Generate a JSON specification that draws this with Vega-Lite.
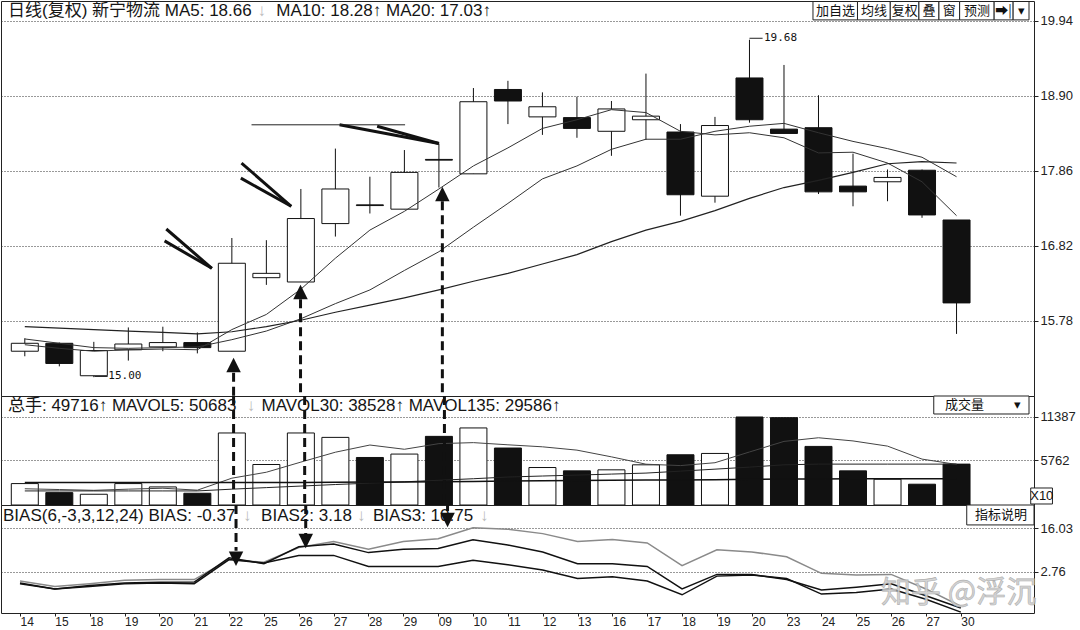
{
  "$schema": "https://vega.github.io/schema/vega-lite/v6.json",
  "background": "white",
  "padding": 0,
  "spacing": 0,
  "bounds": "flush",
  "config": {
    "view": {"stroke": "#222", "strokeWidth": 1},
    "axis": {"labelFont": "Liberation Sans", "labelColor": "#222", "tickColor": "#222", "gridColor": "#333", "gridDash": [1, 2], "gridWidth": 1, "domain": false, "tickSize": 4}
  },
  "datasets": {
    "k": [
      {"i":0,"d":"14","o":15.36,"h":15.54,"l":15.29,"c":15.47,"v":2770,"ma5":15.45,"ma10":15.53,"ma20":15.70,"mv5":2100,"mv30":1820,"mv135":2900,"b1":-0.96,"b2":-0.75,"b3":-0.11},
      {"i":1,"d":"15","o":15.47,"h":15.48,"l":15.15,"c":15.19,"v":1600,"ma5":15.40,"ma10":15.47,"ma20":15.68,"mv5":2000,"mv30":1820,"mv135":2900,"b1":-2.56,"b2":-2.56,"b3":-1.81},
      {"i":2,"d":"18","o":15.02,"h":15.49,"l":15.00,"c":15.37,"v":1390,"ma5":15.36,"ma10":15.41,"ma20":15.66,"mv5":1900,"mv30":1820,"mv135":2900,"b1":-1.81,"b2":-1.49,"b3":-0.96},
      {"i":3,"d":"19","o":15.38,"h":15.69,"l":15.23,"c":15.46,"v":2770,"ma5":15.38,"ma10":15.40,"ma20":15.64,"mv5":2050,"mv30":1820,"mv135":2900,"b1":-0.96,"b2":-0.75,"b3":0.10},
      {"i":4,"d":"20","o":15.42,"h":15.70,"l":15.36,"c":15.48,"v":2340,"ma5":15.39,"ma10":15.41,"ma20":15.62,"mv5":2170,"mv30":1820,"mv135":2900,"b1":-0.75,"b2":-0.54,"b3":0.31},
      {"i":5,"d":"21","o":15.48,"h":15.62,"l":15.33,"c":15.41,"v":1520,"ma5":15.38,"ma10":15.42,"ma20":15.60,"mv5":1920,"mv30":1820,"mv135":2900,"b1":-0.96,"b2":-0.43,"b3":0.31},
      {"i":6,"d":"22","o":15.36,"h":16.93,"l":15.36,"c":16.58,"v":9320,"ma5":15.66,"ma10":15.52,"ma20":15.63,"mv5":3470,"mv30":2050,"mv135":2900,"b1":6.48,"b2":7.01,"b3":6.48},
      {"i":7,"d":"25","o":16.38,"h":16.90,"l":16.28,"c":16.44,"v":5240,"ma5":15.87,"ma10":15.64,"ma20":15.70,"mv5":4240,"mv30":2250,"mv135":2910,"b1":5.42,"b2":5.20,"b3":5.63},
      {"i":8,"d":"26","o":16.32,"h":17.61,"l":16.32,"c":17.20,"v":9320,"ma5":16.22,"ma10":15.81,"ma20":15.79,"mv5":5550,"mv30":2450,"mv135":2920,"b1":7.75,"b2":10.41,"b3":10.20},
      {"i":9,"d":"27","o":17.13,"h":18.17,"l":16.95,"c":17.61,"v":8750,"ma5":16.65,"ma10":16.02,"ma20":15.90,"mv5":6830,"mv30":2650,"mv135":2940,"b1":7.75,"b2":11.26,"b3":12.01},
      {"i":10,"d":"28","o":17.39,"h":17.78,"l":17.27,"c":17.38,"v":6150,"ma5":17.04,"ma10":16.21,"ma20":16.00,"mv5":7760,"mv30":2830,"mv135":2960,"b1":4.35,"b2":8.61,"b3":9.67},
      {"i":11,"d":"29","o":17.33,"h":18.15,"l":17.33,"c":17.84,"v":6590,"ma5":17.30,"ma10":16.48,"ma20":16.10,"mv5":7210,"mv30":3000,"mv135":2990,"b1":4.35,"b2":9.67,"b3":12.01},
      {"i":12,"d":"09","o":18.02,"h":18.24,"l":17.63,"c":18.01,"v":8880,"ma5":17.61,"ma10":16.74,"ma20":16.21,"mv5":7940,"mv30":3200,"mv135":3020,"b1":4.35,"b2":9.88,"b3":12.86},
      {"i":13,"d":"10","o":17.82,"h":19.01,"l":17.82,"c":18.82,"v":9970,"ma5":17.93,"ma10":17.08,"ma20":16.33,"mv5":8070,"mv30":3400,"mv135":3050,"b1":6.27,"b2":12.54,"b3":16.26},
      {"i":14,"d":"11","o":18.99,"h":19.11,"l":18.51,"c":18.83,"v":7370,"ma5":18.18,"ma10":17.41,"ma20":16.44,"mv5":7790,"mv30":3620,"mv135":3100,"b1":4.88,"b2":10.94,"b3":15.83},
      {"i":15,"d":"12","o":18.61,"h":18.95,"l":18.36,"c":18.75,"v":4850,"ma5":18.45,"ma10":17.75,"ma20":16.57,"mv5":7530,"mv30":3750,"mv135":3150,"b1":3.29,"b2":8.82,"b3":14.45},
      {"i":16,"d":"13","o":18.60,"h":18.89,"l":18.32,"c":18.45,"v":4420,"ma5":18.57,"ma10":17.93,"ma20":16.70,"mv5":7100,"mv30":3870,"mv135":3180,"b1":0.63,"b2":5.20,"b3":12.01},
      {"i":17,"d":"16","o":18.41,"h":18.83,"l":18.07,"c":18.72,"v":4550,"ma5":18.71,"ma10":18.16,"ma20":16.88,"mv5":6230,"mv30":4000,"mv135":3200,"b1":1.16,"b2":5.20,"b3":12.64},
      {"i":18,"d":"17","o":18.57,"h":19.21,"l":18.29,"c":18.62,"v":5200,"ma5":18.67,"ma10":18.30,"ma20":17.04,"mv5":5280,"mv30":4130,"mv135":3220,"b1":-0.11,"b2":4.35,"b3":11.58},
      {"i":19,"d":"18","o":18.40,"h":18.51,"l":17.24,"c":17.53,"v":6500,"ma5":18.41,"ma10":18.30,"ma20":17.16,"mv5":5100,"mv30":4380,"mv135":3250,"b1":-4.36,"b2":-2.56,"b3":4.57},
      {"i":20,"d":"19","o":17.51,"h":18.61,"l":17.42,"c":18.49,"v":6670,"ma5":18.36,"ma10":18.41,"ma20":17.31,"mv5":5470,"mv30":4640,"mv135":3280,"b1":1.38,"b2":1.91,"b3":9.46},
      {"i":21,"d":"20","o":19.15,"h":19.68,"l":18.53,"c":18.57,"v":11387,"ma5":18.39,"ma10":18.48,"ma20":17.48,"mv5":6860,"mv30":4900,"mv135":3320,"b1":1.70,"b2":1.91,"b3":8.82},
      {"i":22,"d":"23","o":18.44,"h":19.33,"l":18.38,"c":18.38,"v":11300,"ma5":18.32,"ma10":18.52,"ma20":17.63,"mv5":8230,"mv30":5200,"mv135":3360,"b1":0.63,"b2":0.31,"b3":7.33},
      {"i":23,"d":"24","o":18.46,"h":18.91,"l":17.54,"c":17.57,"v":7580,"ma5":18.11,"ma10":18.39,"ma20":17.73,"mv5":8700,"mv30":5290,"mv135":3380,"b1":-4.15,"b2":-2.88,"b3":2.23},
      {"i":24,"d":"25","o":17.65,"h":18.10,"l":17.37,"c":17.57,"v":4420,"ma5":18.12,"ma10":18.27,"ma20":17.84,"mv5":8290,"mv30":5290,"mv135":3390,"b1":-3.62,"b2":-2.03,"b3":1.70},
      {"i":25,"d":"26","o":17.71,"h":17.88,"l":17.44,"c":17.77,"v":3340,"ma5":17.97,"ma10":18.17,"ma20":17.96,"mv5":7620,"mv30":5290,"mv135":3400,"b1":-2.56,"b2":-0.96,"b3":1.91},
      {"i":26,"d":"27","o":17.87,"h":17.88,"l":17.21,"c":17.25,"v":2690,"ma5":17.71,"ma10":18.05,"ma20":17.99,"mv5":5940,"mv30":5290,"mv135":3400,"b1":-5.75,"b2":-4.68,"b3":-2.56},
      {"i":27,"d":"30","o":17.18,"h":17.18,"l":15.60,"c":16.03,"v":5290,"ma5":17.24,"ma10":17.78,"ma20":17.97,"mv5":5250,"mv30":5290,"mv135":3400,"b1":-9.68,"b2":-8.40,"b3":-7.87}
    ],
    "a": [
      {"p":"t","k":"w","i":4.10,"y":17.055,"i2":5.42,"y2":16.51},
      {"p":"t","k":"w","i":4.05,"y":16.89,"i2":5.42,"y2":16.51},
      {"p":"t","k":"w","i":6.28,"y":17.97,"i2":7.72,"y2":17.37},
      {"p":"t","k":"w","i":6.26,"y":17.76,"i2":7.72,"y2":17.37},
      {"p":"t","k":"w","i":9.12,"y":18.50,"i2":12.0,"y2":18.24},
      {"p":"t","k":"w","i":10.21,"y":18.48,"i2":12.0,"y2":18.24},
      {"p":"t","k":"th","i":6.57,"y":18.50,"i2":11.02,"y2":18.50},
      {"p":"t","k":"th","i":21.0,"y":19.70,"i2":21.38,"y2":19.70},
      {"p":"t","k":"th","i":2.02,"y":15.01,"i2":2.4,"y2":15.01},
      {"p":"t","k":"d","i":6.05,"y":15.06,"y2":14.739},
      {"p":"t","k":"d","i":7.99,"y":16.08,"y2":14.739},
      {"p":"t","k":"d","i":12.1,"y":17.44,"y2":14.739},
      {"p":"t","k":"tu","i":6.05,"y":15.17},
      {"p":"t","k":"tu","i":7.99,"y":16.18},
      {"p":"t","k":"tu","i":12.1,"y":17.54},
      {"p":"t","k":"n","i":21.42,"y":19.70,"t":"19.68"},
      {"p":"t","k":"n","i":2.42,"y":15.01,"t":"15.00"},
      {"p":"t","k":"tt","i":-0.488,"y":20.079,"t":"日线(复权) 新宁物流 MA5: 18.66"},
      {"p":"t","k":"tt","i":7.29,"y":20.079,"t":"MA10: 18.28↑  MA20: 17.03↑"},
      {"p":"t","k":"ga","i":6.74,"y":20.079,"t":"↓"},
      {"p":"t","k":"b","i":22.84,"i2":24.13,"y":20.21,"y2":19.955},
      {"p":"t","k":"b","i":24.13,"i2":25.08,"y":20.21,"y2":19.955},
      {"p":"t","k":"b","i":25.08,"i2":25.91,"y":20.21,"y2":19.955},
      {"p":"t","k":"b","i":25.91,"i2":26.49,"y":20.21,"y2":19.955},
      {"p":"t","k":"b","i":26.49,"i2":27.09,"y":20.21,"y2":19.955},
      {"p":"t","k":"b","i":27.09,"i2":28.09,"y":20.21,"y2":19.955},
      {"p":"t","k":"b","i":28.09,"i2":28.64,"y":20.21,"y2":19.955},
      {"p":"t","k":"b","i":28.64,"i2":29.10,"y":20.21,"y2":19.955},
      {"p":"t","k":"bt","i":23.49,"y":20.079,"t":"加自选"},
      {"p":"t","k":"bt","i":24.61,"y":20.079,"t":"均线"},
      {"p":"t","k":"bt","i":25.50,"y":20.079,"t":"复权"},
      {"p":"t","k":"bt","i":26.20,"y":20.079,"t":"叠"},
      {"p":"t","k":"bt","i":26.79,"y":20.079,"t":"窗"},
      {"p":"t","k":"bt","i":27.59,"y":20.079,"t":"预测"},
      {"p":"t","k":"bt","i":28.36,"y":20.079,"t":"➡|"},
      {"p":"t","k":"bt","i":28.87,"y":20.079,"t":"▾"},
      {"p":"m","k":"d","i":6.05},
      {"p":"m","k":"d","i":8.11},
      {"p":"m","k":"d","i":12.16},
      {"p":"m","k":"tt","i":-0.488,"y":12811,"t":"总手: 49716↑ MAVOL5: 50683"},
      {"p":"m","k":"tt","i":6.86,"y":12811,"t":"MAVOL30: 38528↑ MAVOL135: 29586↑"},
      {"p":"m","k":"ga","i":6.43,"y":12811,"t":"↓"},
      {"p":"m","k":"b","i":26.34,"i2":29.10,"y":14104,"y2":11775},
      {"p":"m","k":"b","i":29.15,"i2":29.78,"y":2200,"y2":130},
      {"p":"m","k":"bt","i":27.23,"y":12940,"t":"成交量"},
      {"p":"m","k":"bt","i":28.78,"y":12940,"t":"▾"},
      {"p":"m","k":"bt","i":29.47,"y":1165,"t":"X10"},
      {"p":"b","k":"d","i":6.2,"y":23.25,"y2":9.15},
      {"p":"b","k":"d","i":8.2,"y":23.25,"y2":14.36},
      {"p":"b","k":"d","i":12.27,"y":23.25,"y2":21.41},
      {"p":"b","k":"td","i":6.2,"y":6.7},
      {"p":"b","k":"td","i":8.2,"y":12.2},
      {"p":"b","k":"td","i":12.27,"y":18.65},
      {"p":"b","k":"tt","i":-0.488,"y":19.88,"t":"BIAS(6,-3,3,12,24) BIAS: -0.37"},
      {"p":"b","k":"tt","i":6.92,"y":19.88,"t":"BIAS2: 3.18"},
      {"p":"b","k":"tt","i":10.13,"y":19.88,"t":"BIAS3: 10.75"},
      {"p":"b","k":"ga","i":6.40,"y":19.88,"t":"↓"},
      {"p":"b","k":"ga","i":9.67,"y":19.88,"t":"↓"},
      {"p":"b","k":"ga","i":13.20,"y":19.88,"t":"↓"},
      {"p":"b","k":"b","i":27.17,"i2":29.10,"y":23.25,"y2":17.12},
      {"p":"b","k":"bt","i":28.15,"y":20.19,"t":"指标说明"},
      {"p":"b","k":"wm","i":24.71,"y":-3.8,"t":"知乎 @浮沉"}
    ]
  },
  "vconcat": [
    {
      "width": 1033,
      "height": 395,
      "data": {"name": "k"},
      "encoding": {
        "x": {"field": "i", "type": "quantitative", "scale": {"domain": [-0.545, 29.1], "nice": false, "zero": false}, "axis": null}
      },
      "layer": [
        {"mark": {"type": "rule", "color": "#111", "strokeWidth": 1},
         "encoding": {
           "y": {"field": "l", "type": "quantitative", "scale": {"domain": [14.739, 20.217], "nice": false, "zero": false},
                 "axis": {"orient": "right", "values": [15.78, 16.82, 17.86, 18.9, 19.94], "format": ".2f", "grid": true, "title": null, "labelFontSize": 13, "labelPadding": 2}},
           "y2": {"field": "h"}}},
        {"mark": {"type": "bar", "width": 27, "stroke": "#111", "strokeWidth": 1},
         "encoding": {
           "y": {"field": "o", "type": "quantitative", "scale": {"domain": [14.739, 20.217], "nice": false, "zero": false},
                 "axis": {"orient": "right", "values": [15.78, 16.82, 17.86, 18.9, 19.94], "format": ".2f", "grid": true, "title": null, "labelFontSize": 13, "labelPadding": 2}},
           "y2": {"field": "c"},
           "fill": {"condition": {"test": "datum.c >= datum.o", "value": "#ffffff"}, "value": "#111111"}}},
        {"mark": {"type": "line", "color": "#333", "strokeWidth": 1},
         "encoding": {
           "y": {"field": "ma5", "type": "quantitative", "scale": {"domain": [14.739, 20.217], "nice": false, "zero": false},
                 "axis": {"orient": "right", "values": [15.78, 16.82, 17.86, 18.9, 19.94], "format": ".2f", "grid": true, "title": null, "labelFontSize": 13, "labelPadding": 2}}}},
        {"mark": {"type": "line", "color": "#333", "strokeWidth": 1},
         "encoding": {
           "y": {"field": "ma10", "type": "quantitative", "scale": {"domain": [14.739, 20.217], "nice": false, "zero": false},
                 "axis": {"orient": "right", "values": [15.78, 16.82, 17.86, 18.9, 19.94], "format": ".2f", "grid": true, "title": null, "labelFontSize": 13, "labelPadding": 2}}}},
        {"mark": {"type": "line", "color": "#222", "strokeWidth": 1.2},
         "encoding": {
           "y": {"field": "ma20", "type": "quantitative", "scale": {"domain": [14.739, 20.217], "nice": false, "zero": false},
                 "axis": {"orient": "right", "values": [15.78, 16.82, 17.86, 18.9, 19.94], "format": ".2f", "grid": true, "title": null, "labelFontSize": 13, "labelPadding": 2}}}},
        {"data": {"name": "a"}, "transform": [{"filter": "datum.p == 't' && datum.k == 'w'"}],
         "mark": {"type": "rule", "color": "#111", "strokeWidth": 3},
         "encoding": {
           "x2": {"field": "i2"},
           "y": {"field": "y", "type": "quantitative", "scale": {"domain": [14.739, 20.217], "nice": false, "zero": false},
                 "axis": {"orient": "right", "values": [15.78, 16.82, 17.86, 18.9, 19.94], "format": ".2f", "grid": true, "title": null, "labelFontSize": 13, "labelPadding": 2}},
           "y2": {"field": "y2"}}},
        {"data": {"name": "a"}, "transform": [{"filter": "datum.p == 't' && datum.k == 'th'"}],
         "mark": {"type": "rule", "color": "#222", "strokeWidth": 1},
         "encoding": {
           "x2": {"field": "i2"},
           "y": {"field": "y", "type": "quantitative", "scale": {"domain": [14.739, 20.217], "nice": false, "zero": false},
                 "axis": {"orient": "right", "values": [15.78, 16.82, 17.86, 18.9, 19.94], "format": ".2f", "grid": true, "title": null, "labelFontSize": 13, "labelPadding": 2}},
           "y2": {"field": "y2"}}},
        {"data": {"name": "a"}, "transform": [{"filter": "datum.p == 't' && datum.k == 'd'"}],
         "mark": {"type": "rule", "color": "#111", "strokeWidth": 3, "strokeDash": [9, 5]},
         "encoding": {
           "y": {"field": "y", "type": "quantitative", "scale": {"domain": [14.739, 20.217], "nice": false, "zero": false},
                 "axis": {"orient": "right", "values": [15.78, 16.82, 17.86, 18.9, 19.94], "format": ".2f", "grid": true, "title": null, "labelFontSize": 13, "labelPadding": 2}},
           "y2": {"field": "y2"}}},
        {"data": {"name": "a"}, "transform": [{"filter": "datum.p == 't' && datum.k == 'tu'"}],
         "mark": {"type": "point", "shape": "M-1,1L0,-1L1,1Z", "filled": true, "color": "#111", "size": 210, "opacity": 1},
         "encoding": {
           "y": {"field": "y", "type": "quantitative", "scale": {"domain": [14.739, 20.217], "nice": false, "zero": false},
                 "axis": {"orient": "right", "values": [15.78, 16.82, 17.86, 18.9, 19.94], "format": ".2f", "grid": true, "title": null, "labelFontSize": 13, "labelPadding": 2}}}},
        {"data": {"name": "a"}, "transform": [{"filter": "datum.p == 't' && datum.k == 'n'"}],
         "mark": {"type": "text", "align": "left", "baseline": "middle", "font": "DejaVu Sans Mono", "fontSize": 11, "color": "#111"},
         "encoding": {
           "y": {"field": "y", "type": "quantitative", "scale": {"domain": [14.739, 20.217], "nice": false, "zero": false},
                 "axis": {"orient": "right", "values": [15.78, 16.82, 17.86, 18.9, 19.94], "format": ".2f", "grid": true, "title": null, "labelFontSize": 13, "labelPadding": 2}},
           "text": {"field": "t"}}},
        {"data": {"name": "a"}, "transform": [{"filter": "datum.p == 't' && datum.k == 'b'"}],
         "mark": {"type": "rect", "fill": "#ffffff", "stroke": "#222", "strokeWidth": 1},
         "encoding": {
           "x2": {"field": "i2"},
           "y": {"field": "y", "type": "quantitative", "scale": {"domain": [14.739, 20.217], "nice": false, "zero": false},
                 "axis": {"orient": "right", "values": [15.78, 16.82, 17.86, 18.9, 19.94], "format": ".2f", "grid": true, "title": null, "labelFontSize": 13, "labelPadding": 2}},
           "y2": {"field": "y2"}}},
        {"data": {"name": "a"}, "transform": [{"filter": "datum.p == 't' && datum.k == 'bt'"}],
         "mark": {"type": "text", "align": "center", "baseline": "middle", "font": "Noto Sans CJK SC", "fontSize": 13, "color": "#111"},
         "encoding": {
           "y": {"field": "y", "type": "quantitative", "scale": {"domain": [14.739, 20.217], "nice": false, "zero": false},
                 "axis": {"orient": "right", "values": [15.78, 16.82, 17.86, 18.9, 19.94], "format": ".2f", "grid": true, "title": null, "labelFontSize": 13, "labelPadding": 2}},
           "text": {"field": "t"}}},
        {"data": {"name": "a"}, "transform": [{"filter": "datum.p == 't' && datum.k == 'tt'"}],
         "mark": {"type": "text", "align": "left", "baseline": "middle", "font": "Liberation Sans, Noto Sans CJK SC", "fontSize": 17, "color": "#151515"},
         "encoding": {
           "y": {"field": "y", "type": "quantitative", "scale": {"domain": [14.739, 20.217], "nice": false, "zero": false},
                 "axis": {"orient": "right", "values": [15.78, 16.82, 17.86, 18.9, 19.94], "format": ".2f", "grid": true, "title": null, "labelFontSize": 13, "labelPadding": 2}},
           "text": {"field": "t"}}},
        {"data": {"name": "a"}, "transform": [{"filter": "datum.p == 't' && datum.k == 'ga'"}],
         "mark": {"type": "text", "align": "left", "baseline": "middle", "font": "Liberation Sans", "fontSize": 17, "color": "#bbbbbb"},
         "encoding": {
           "y": {"field": "y", "type": "quantitative", "scale": {"domain": [14.739, 20.217], "nice": false, "zero": false},
                 "axis": {"orient": "right", "values": [15.78, 16.82, 17.86, 18.9, 19.94], "format": ".2f", "grid": true, "title": null, "labelFontSize": 13, "labelPadding": 2}},
           "text": {"field": "t"}}}
      ]
    },
    {
      "width": 1033,
      "height": 109,
      "data": {"name": "k"},
      "encoding": {
        "x": {"field": "i", "type": "quantitative", "scale": {"domain": [-0.545, 29.1], "nice": false, "zero": false}, "axis": null}
      },
      "layer": [
        {"mark": {"type": "bar", "width": 27, "stroke": "#111", "strokeWidth": 1},
         "encoding": {
           "y": {"field": "v", "type": "quantitative", "scale": {"domain": [0, 14104], "nice": false, "zero": false},
                 "axis": {"orient": "right", "values": [5762, 11387], "format": "d", "grid": true, "title": null, "labelFontSize": 13, "labelPadding": 2}},
           "fill": {"condition": {"test": "datum.c >= datum.o", "value": "#ffffff"}, "value": "#111111"}}},
        {"mark": {"type": "line", "color": "#444", "strokeWidth": 1},
         "encoding": {
           "y": {"field": "mv5", "type": "quantitative", "scale": {"domain": [0, 14104], "nice": false, "zero": false},
                 "axis": {"orient": "right", "values": [5762, 11387], "format": "d", "grid": true, "title": null, "labelFontSize": 13, "labelPadding": 2}}}},
        {"mark": {"type": "line", "color": "#222", "strokeWidth": 1},
         "encoding": {
           "y": {"field": "mv30", "type": "quantitative", "scale": {"domain": [0, 14104], "nice": false, "zero": false},
                 "axis": {"orient": "right", "values": [5762, 11387], "format": "d", "grid": true, "title": null, "labelFontSize": 13, "labelPadding": 2}}}},
        {"mark": {"type": "line", "color": "#111", "strokeWidth": 1.5},
         "encoding": {
           "y": {"field": "mv135", "type": "quantitative", "scale": {"domain": [0, 14104], "nice": false, "zero": false},
                 "axis": {"orient": "right", "values": [5762, 11387], "format": "d", "grid": true, "title": null, "labelFontSize": 13, "labelPadding": 2}}}},
        {"data": {"name": "a"}, "transform": [{"filter": "datum.p == 'm' && datum.k == 'd'"}],
         "mark": {"type": "rule", "color": "#111", "strokeWidth": 3, "strokeDash": [9, 5]},
         "encoding": {}},
        {"data": {"name": "a"}, "transform": [{"filter": "datum.p == 'm' && datum.k == 'b'"}],
         "mark": {"type": "rect", "fill": "#ffffff", "stroke": "#222", "strokeWidth": 1},
         "encoding": {
           "x2": {"field": "i2"},
           "y": {"field": "y", "type": "quantitative", "scale": {"domain": [0, 14104], "nice": false, "zero": false},
                 "axis": {"orient": "right", "values": [5762, 11387], "format": "d", "grid": true, "title": null, "labelFontSize": 13, "labelPadding": 2}},
           "y2": {"field": "y2"}}},
        {"data": {"name": "a"}, "transform": [{"filter": "datum.p == 'm' && datum.k == 'bt'"}],
         "mark": {"type": "text", "align": "center", "baseline": "middle", "font": "Liberation Sans, Noto Sans CJK SC", "fontSize": 13, "color": "#111"},
         "encoding": {
           "y": {"field": "y", "type": "quantitative", "scale": {"domain": [0, 14104], "nice": false, "zero": false},
                 "axis": {"orient": "right", "values": [5762, 11387], "format": "d", "grid": true, "title": null, "labelFontSize": 13, "labelPadding": 2}},
           "text": {"field": "t"}}},
        {"data": {"name": "a"}, "transform": [{"filter": "datum.p == 'm' && datum.k == 'tt'"}],
         "mark": {"type": "text", "align": "left", "baseline": "middle", "font": "Liberation Sans, Noto Sans CJK SC", "fontSize": 17, "color": "#151515"},
         "encoding": {
           "y": {"field": "y", "type": "quantitative", "scale": {"domain": [0, 14104], "nice": false, "zero": false},
                 "axis": {"orient": "right", "values": [5762, 11387], "format": "d", "grid": true, "title": null, "labelFontSize": 13, "labelPadding": 2}},
           "text": {"field": "t"}}},
        {"data": {"name": "a"}, "transform": [{"filter": "datum.p == 'm' && datum.k == 'ga'"}],
         "mark": {"type": "text", "align": "left", "baseline": "middle", "font": "Liberation Sans", "fontSize": 17, "color": "#bbbbbb"},
         "encoding": {
           "y": {"field": "y", "type": "quantitative", "scale": {"domain": [0, 14104], "nice": false, "zero": false},
                 "axis": {"orient": "right", "values": [5762, 11387], "format": "d", "grid": true, "title": null, "labelFontSize": 13, "labelPadding": 2}},
           "text": {"field": "t"}}}
      ]
    },
    {
      "width": 1033,
      "height": 108,
      "data": {"name": "k"},
      "encoding": {
        "x": {"field": "i", "type": "quantitative", "scale": {"domain": [-0.545, 29.1], "nice": false, "zero": false},
              "axis": {"orient": "bottom", "values": [0,1,2,3,4,5,6,7,8,9,10,11,12,13,14,15,16,17,18,19,20,21,22,23,24,25,26,27],
                       "labelExpr": "['14','15','18','19','20','21','22','25','26','27','28','29','09','10','11','12','13','16','17','18','19','20','23','24','25','26','27','30'][datum.value]",
                       "grid": false, "title": null, "tickSize": 3, "labelAlign": "left", "labelBaseline": "top", "labelPadding": 0, "labelDx": 1, "labelFontSize": 12, "labelOverlap": false, "labelFlush": false}}
      },
      "layer": [
        {"mark": {"type": "line", "color": "#8a8a8a", "strokeWidth": 1.5},
         "encoding": {
           "y": {"field": "b3", "type": "quantitative", "scale": {"domain": [-9.96, 23.25], "nice": false, "zero": false},
                 "axis": {"orient": "right", "values": [2.76, 16.03], "format": ".2f", "grid": true, "title": null, "labelFontSize": 13, "labelPadding": 2}}}},
        {"mark": {"type": "line", "color": "#111", "strokeWidth": 1.5},
         "encoding": {
           "y": {"field": "b2", "type": "quantitative", "scale": {"domain": [-9.96, 23.25], "nice": false, "zero": false},
                 "axis": {"orient": "right", "values": [2.76, 16.03], "format": ".2f", "grid": true, "title": null, "labelFontSize": 13, "labelPadding": 2}}}},
        {"mark": {"type": "line", "color": "#111", "strokeWidth": 1.5},
         "encoding": {
           "y": {"field": "b1", "type": "quantitative", "scale": {"domain": [-9.96, 23.25], "nice": false, "zero": false},
                 "axis": {"orient": "right", "values": [2.76, 16.03], "format": ".2f", "grid": true, "title": null, "labelFontSize": 13, "labelPadding": 2}}}},
        {"data": {"name": "a"}, "transform": [{"filter": "datum.p == 'b' && datum.k == 'wm'"}],
         "mark": {"type": "text", "align": "left", "baseline": "middle", "font": "Noto Sans CJK SC", "fontSize": 30, "color": "#d0d0d0", "stroke": "#a8a8a8", "strokeWidth": 0.6, "opacity": 0.9},
         "encoding": {
           "y": {"field": "y", "type": "quantitative", "scale": {"domain": [-9.96, 23.25], "nice": false, "zero": false},
                 "axis": {"orient": "right", "values": [2.76, 16.03], "format": ".2f", "grid": true, "title": null, "labelFontSize": 13, "labelPadding": 2}},
           "text": {"field": "t"}}},
        {"data": {"name": "a"}, "transform": [{"filter": "datum.p == 'b' && datum.k == 'tt'"}],
         "mark": {"type": "text", "align": "left", "baseline": "middle", "font": "Liberation Sans, Noto Sans CJK SC", "fontSize": 17, "color": "#151515"},
         "encoding": {
           "y": {"field": "y", "type": "quantitative", "scale": {"domain": [-9.96, 23.25], "nice": false, "zero": false},
                 "axis": {"orient": "right", "values": [2.76, 16.03], "format": ".2f", "grid": true, "title": null, "labelFontSize": 13, "labelPadding": 2}},
           "text": {"field": "t"}}},
        {"data": {"name": "a"}, "transform": [{"filter": "datum.p == 'b' && datum.k == 'ga'"}],
         "mark": {"type": "text", "align": "left", "baseline": "middle", "font": "Liberation Sans", "fontSize": 17, "color": "#bbbbbb"},
         "encoding": {
           "y": {"field": "y", "type": "quantitative", "scale": {"domain": [-9.96, 23.25], "nice": false, "zero": false},
                 "axis": {"orient": "right", "values": [2.76, 16.03], "format": ".2f", "grid": true, "title": null, "labelFontSize": 13, "labelPadding": 2}},
           "text": {"field": "t"}}},
        {"data": {"name": "a"}, "transform": [{"filter": "datum.p == 'b' && datum.k == 'b'"}],
         "mark": {"type": "rect", "fill": "#ffffff", "stroke": "#222", "strokeWidth": 1},
         "encoding": {
           "x2": {"field": "i2"},
           "y": {"field": "y", "type": "quantitative", "scale": {"domain": [-9.96, 23.25], "nice": false, "zero": false},
                 "axis": {"orient": "right", "values": [2.76, 16.03], "format": ".2f", "grid": true, "title": null, "labelFontSize": 13, "labelPadding": 2}},
           "y2": {"field": "y2"}}},
        {"data": {"name": "a"}, "transform": [{"filter": "datum.p == 'b' && datum.k == 'bt'"}],
         "mark": {"type": "text", "align": "center", "baseline": "middle", "font": "Noto Sans CJK SC", "fontSize": 13, "color": "#111"},
         "encoding": {
           "y": {"field": "y", "type": "quantitative", "scale": {"domain": [-9.96, 23.25], "nice": false, "zero": false},
                 "axis": {"orient": "right", "values": [2.76, 16.03], "format": ".2f", "grid": true, "title": null, "labelFontSize": 13, "labelPadding": 2}},
           "text": {"field": "t"}}},
        {"data": {"name": "a"}, "transform": [{"filter": "datum.p == 'b' && datum.k == 'd'"}],
         "mark": {"type": "rule", "color": "#111", "strokeWidth": 3, "strokeDash": [9, 5]},
         "encoding": {
           "y": {"field": "y", "type": "quantitative", "scale": {"domain": [-9.96, 23.25], "nice": false, "zero": false},
                 "axis": {"orient": "right", "values": [2.76, 16.03], "format": ".2f", "grid": true, "title": null, "labelFontSize": 13, "labelPadding": 2}},
           "y2": {"field": "y2"}}},
        {"data": {"name": "a"}, "transform": [{"filter": "datum.p == 'b' && datum.k == 'td'"}],
         "mark": {"type": "point", "shape": "M-1,-1L0,1L1,-1Z", "filled": true, "color": "#111", "size": 210, "opacity": 1},
         "encoding": {
           "y": {"field": "y", "type": "quantitative", "scale": {"domain": [-9.96, 23.25], "nice": false, "zero": false},
                 "axis": {"orient": "right", "values": [2.76, 16.03], "format": ".2f", "grid": true, "title": null, "labelFontSize": 13, "labelPadding": 2}}}}
      ]
    }
  ]
}
